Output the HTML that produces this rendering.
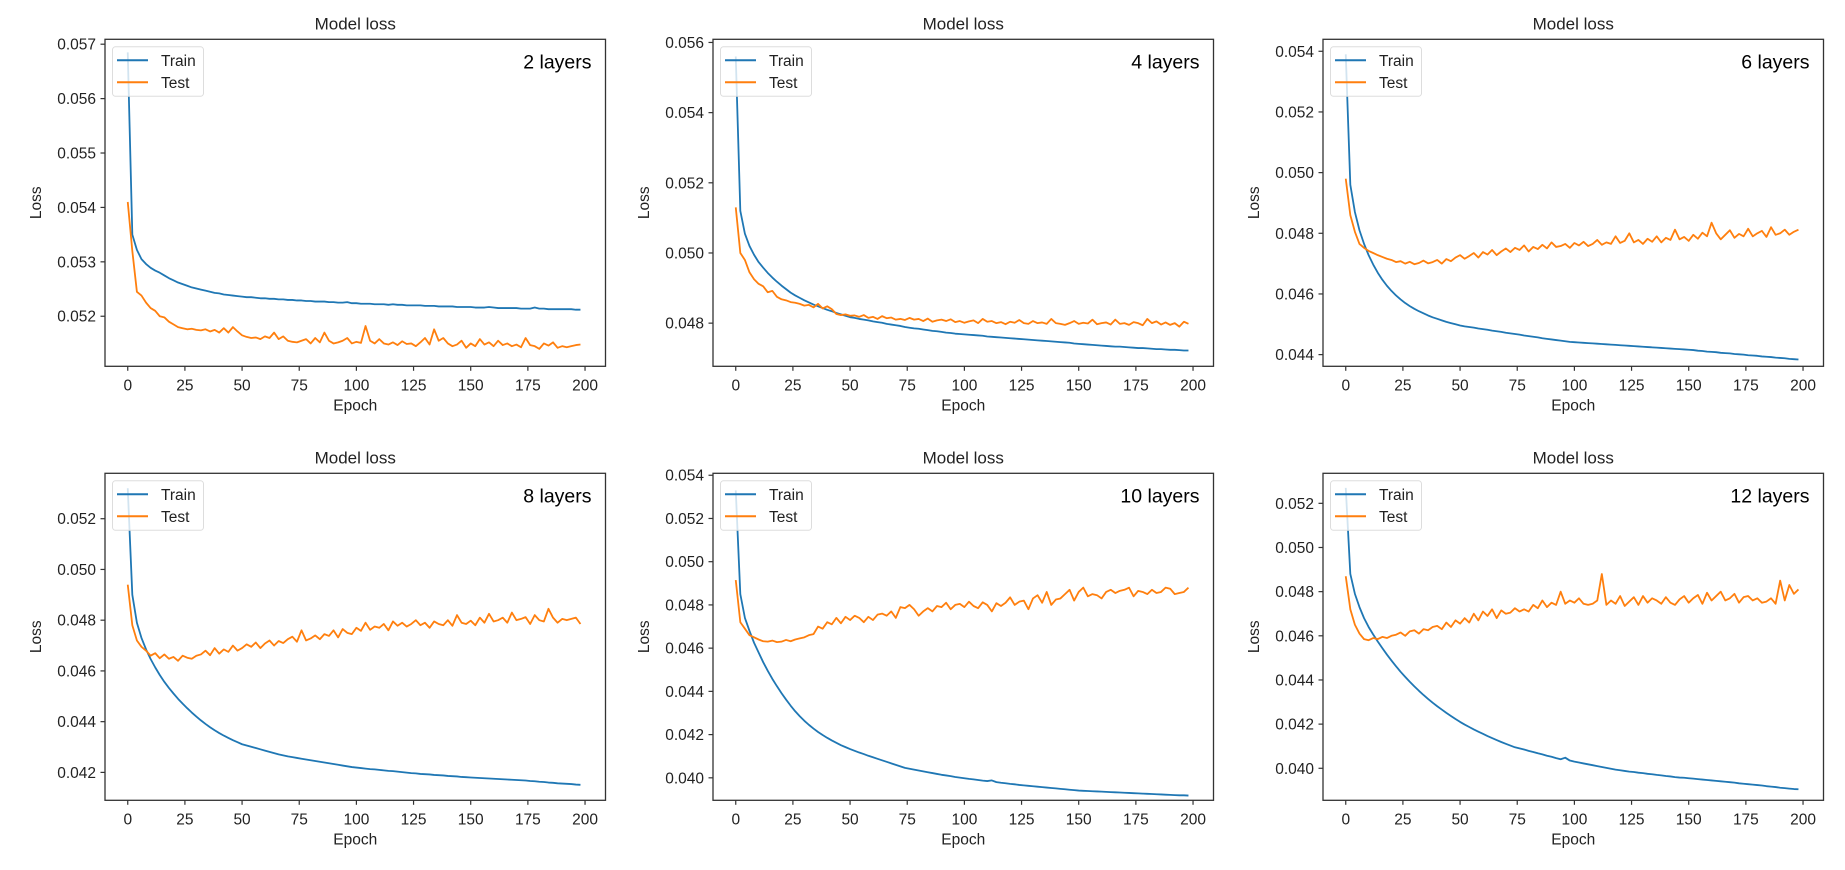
<!DOCTYPE html>
<html><head><meta charset="utf-8"><style>
html,body{margin:0;padding:0;background:#fff;}
svg{display:block;font-family:"Liberation Sans","DejaVu Sans",sans-serif;}
</style></head><body>
<svg id="fig" width="1845" height="870" viewBox="0 0 1845 870" xmlns="http://www.w3.org/2000/svg"></svg>
<script>
// Values are loss x 1e5, one point every 2 epochs
const panelLabels = ["2 layers","4 layers","6 layers","8 layers","10 layers","12 layers"];
const yTicks1 = [0.052,0.053,0.054,0.055,0.056,0.057];
const yTicks2 = [0.048,0.050,0.052,0.054,0.056];
const yTicks3 = [0.044,0.046,0.048,0.050,0.052,0.054];
const yTicks4 = [0.042,0.044,0.046,0.048,0.050,0.052];
const yTicks5 = [0.040,0.042,0.044,0.046,0.048,0.050,0.052,0.054];
const yTicks6 = [0.040,0.042,0.044,0.046,0.048,0.050,0.052];
const xTicks = [0,25,50,75,100,125,150,175,200];
const yLim1=[0.05108,0.05709], yLim2=[0.04677,0.05609], yLim3=[0.043615,0.054395];
const yLim4=[0.0409,0.05379], yLim5=[0.03896,0.05409], yLim6=[0.03855,0.05336];

const train1=[5685,5350,5322,5305,5296,5289,5284,5280,5275,5270,5266,5262,5259,5256,5253,5251,5249,5247,5245,5243,5242,5240,5239,5238,5237,5236,5235,5235,5234,5233,5233,5232,5232,5231,5231,5230,5230,5229,5229,5228,5228,5227,5227,5227,5226,5226,5225,5225,5226,5224,5224,5223,5223,5223,5222,5222,5222,5221,5222,5221,5221,5220,5220,5220,5220,5219,5219,5219,5218,5218,5218,5218,5217,5217,5217,5217,5216,5216,5216,5217,5216,5215,5215,5215,5215,5215,5214,5214,5214,5216,5214,5214,5213,5213,5213,5213,5213,5213,5212,5212];
const test1=[5410,5320,5245,5238,5225,5215,5210,5200,5198,5190,5185,5180,5178,5176,5177,5175,5174,5176,5172,5175,5170,5178,5170,5180,5172,5165,5162,5160,5161,5158,5163,5160,5170,5158,5163,5155,5153,5152,5155,5158,5150,5160,5152,5170,5155,5150,5152,5155,5160,5150,5153,5151,5182,5155,5150,5158,5150,5148,5152,5147,5154,5149,5150,5145,5152,5160,5148,5176,5155,5160,5150,5145,5148,5155,5142,5150,5145,5158,5148,5152,5145,5155,5147,5150,5145,5148,5143,5160,5147,5145,5140,5150,5146,5152,5142,5145,5143,5145,5147,5148];
const train2=[5560,5120,5055,5020,4995,4974,4958,4943,4930,4918,4907,4897,4887,4879,4872,4865,4859,4853,4848,4843,4838,4834,4829,4825,4821,4817,4815,4812,4810,4808,4805,4803,4801,4798,4796,4794,4792,4789,4787,4785,4784,4782,4780,4778,4777,4775,4773,4772,4770,4769,4768,4767,4766,4765,4764,4762,4761,4760,4759,4758,4757,4756,4755,4754,4753,4752,4751,4750,4749,4748,4747,4746,4745,4744,4742,4741,4740,4739,4738,4737,4736,4735,4734,4733,4733,4732,4731,4730,4729,4729,4728,4727,4726,4726,4725,4724,4724,4723,4722,4722];
const test2=[5130,5000,4980,4945,4925,4912,4905,4888,4892,4875,4868,4865,4860,4858,4855,4850,4852,4845,4855,4842,4848,4840,4826,4823,4825,4821,4822,4818,4823,4815,4818,4812,4820,4814,4816,4810,4812,4809,4815,4810,4812,4806,4813,4804,4808,4810,4806,4811,4803,4806,4801,4805,4808,4800,4812,4804,4806,4800,4803,4797,4804,4801,4809,4800,4798,4806,4800,4802,4798,4812,4800,4798,4795,4800,4806,4798,4801,4799,4810,4797,4800,4802,4796,4810,4798,4800,4795,4803,4800,4794,4812,4800,4805,4796,4802,4795,4800,4790,4804,4798];
const train3=[5390,4960,4870,4810,4765,4728,4697,4670,4647,4627,4610,4595,4582,4570,4560,4551,4543,4536,4529,4523,4518,4513,4508,4504,4500,4496,4493,4491,4489,4486,4484,4482,4479,4477,4475,4472,4470,4468,4466,4463,4461,4459,4457,4454,4452,4450,4448,4446,4444,4442,4441,4440,4439,4438,4437,4436,4435,4434,4433,4432,4431,4430,4429,4428,4427,4426,4425,4424,4423,4422,4421,4420,4419,4418,4417,4416,4415,4413,4412,4410,4409,4408,4406,4405,4404,4402,4401,4400,4398,4397,4396,4394,4393,4392,4390,4389,4388,4386,4385,4384];
const test3=[4980,4860,4805,4765,4752,4742,4735,4728,4722,4716,4712,4705,4708,4700,4706,4698,4702,4710,4701,4705,4712,4700,4715,4708,4720,4728,4716,4725,4735,4720,4738,4730,4745,4728,4740,4750,4738,4752,4745,4760,4740,4755,4748,4762,4750,4770,4755,4758,4765,4752,4768,4760,4772,4758,4765,4778,4762,4770,4765,4790,4768,4775,4800,4770,4778,4765,4782,4772,4790,4770,4785,4778,4812,4780,4788,4775,4795,4782,4802,4790,4835,4800,4780,4795,4810,4785,4798,4790,4815,4790,4800,4808,4788,4820,4795,4800,4812,4795,4805,4812];
const train4=[5320,4900,4790,4730,4685,4647,4614,4584,4557,4533,4511,4490,4471,4453,4436,4420,4405,4391,4378,4366,4355,4345,4336,4327,4319,4311,4306,4301,4296,4291,4286,4281,4276,4271,4267,4263,4260,4257,4254,4251,4248,4245,4242,4239,4236,4233,4230,4227,4224,4221,4219,4217,4215,4213,4212,4210,4208,4206,4205,4203,4201,4199,4197,4196,4194,4193,4192,4190,4189,4188,4186,4185,4184,4182,4181,4180,4179,4178,4177,4176,4175,4174,4173,4172,4171,4170,4169,4168,4166,4165,4163,4162,4160,4159,4157,4156,4155,4154,4152,4151];
const test4=[4940,4780,4720,4695,4680,4660,4670,4650,4665,4648,4655,4640,4660,4652,4648,4660,4665,4680,4662,4690,4668,4685,4675,4700,4680,4690,4705,4695,4712,4690,4708,4720,4700,4718,4710,4725,4735,4715,4760,4720,4728,4740,4725,4745,4738,4760,4732,4765,4750,4745,4770,4758,4790,4762,4775,4770,4785,4760,4795,4778,4790,4775,4785,4800,4780,4790,4770,4795,4785,4780,4800,4778,4820,4790,4785,4798,4780,4810,4790,4825,4795,4800,4810,4790,4830,4800,4805,4812,4785,4820,4800,4795,4845,4810,4790,4805,4800,4805,4810,4785];
const train5=[5330,4850,4740,4680,4625,4580,4535,4495,4458,4424,4392,4362,4334,4308,4285,4264,4245,4228,4212,4198,4185,4173,4162,4151,4142,4133,4125,4117,4110,4102,4095,4088,4081,4074,4067,4060,4053,4046,4042,4038,4034,4030,4026,4022,4018,4014,4011,4008,4004,4001,3998,3995,3993,3990,3987,3985,3988,3980,3977,3975,3972,3970,3967,3965,3963,3961,3959,3957,3955,3953,3951,3949,3947,3945,3943,3941,3940,3939,3938,3937,3936,3935,3934,3933,3932,3931,3930,3929,3928,3927,3926,3925,3924,3923,3922,3921,3920,3919,3919,3918];
const test5=[4915,4720,4690,4660,4650,4640,4632,4630,4635,4628,4630,4638,4632,4640,4645,4650,4660,4665,4700,4690,4720,4710,4740,4715,4745,4730,4750,4740,4720,4745,4730,4755,4760,4750,4770,4740,4790,4785,4800,4780,4750,4770,4785,4770,4795,4790,4810,4780,4800,4805,4790,4815,4795,4785,4812,4800,4770,4808,4795,4810,4835,4800,4815,4820,4780,4830,4845,4810,4860,4800,4825,4830,4850,4870,4820,4860,4880,4840,4850,4845,4830,4860,4870,4855,4865,4870,4880,4840,4865,4860,4850,4870,4855,4860,4880,4875,4850,4855,4860,4880];
const train6=[5270,4880,4790,4730,4680,4640,4606,4574,4544,4515,4488,4462,4437,4414,4392,4371,4351,4332,4314,4297,4281,4266,4251,4237,4223,4210,4198,4187,4176,4166,4156,4146,4137,4128,4119,4111,4103,4095,4090,4085,4079,4074,4068,4063,4057,4052,4046,4041,4048,4035,4030,4026,4022,4018,4014,4010,4006,4002,3998,3994,3991,3988,3985,3983,3980,3978,3975,3973,3970,3968,3965,3963,3960,3958,3957,3955,3953,3951,3949,3947,3945,3943,3941,3939,3937,3935,3932,3930,3928,3926,3924,3922,3919,3917,3915,3912,3910,3908,3906,3905];
const test6=[4870,4720,4650,4610,4585,4580,4590,4585,4595,4590,4600,4605,4615,4600,4620,4625,4610,4630,4625,4640,4645,4630,4660,4640,4670,4655,4680,4660,4700,4670,4710,4690,4720,4680,4715,4700,4705,4725,4710,4720,4710,4740,4725,4760,4730,4750,4740,4800,4745,4760,4750,4770,4745,4740,4745,4760,4880,4740,4760,4745,4780,4735,4755,4775,4740,4780,4750,4770,4760,4745,4775,4750,4740,4765,4780,4750,4770,4785,4745,4795,4760,4780,4800,4760,4770,4790,4750,4775,4780,4760,4770,4750,4755,4770,4745,4850,4760,4830,4790,4810];

const NS="http://www.w3.org/2000/svg";
const svg=document.getElementById('fig');
function mk(tag,attrs,parent){const e=document.createElementNS(NS,tag);for(const k in attrs)e.setAttribute(k,attrs[k]);(parent||svg).appendChild(e);return e;}

const colLeft=[105,713,1323], rowTop=[39.3,473.3], W=500.5, H=327;
const panels=[
 {train:train1,test:test1,ticks:yTicks1,lim:yLim1},
 {train:train2,test:test2,ticks:yTicks2,lim:yLim2},
 {train:train3,test:test3,ticks:yTicks3,lim:yLim3},
 {train:train4,test:test4,ticks:yTicks4,lim:yLim4},
 {train:train5,test:test5,ticks:yTicks5,lim:yLim5},
 {train:train6,test:test6,ticks:yTicks6,lim:yLim6}
];
panels.forEach((p,pi)=>{
  const L=colLeft[pi%3], T=rowTop[Math.floor(pi/3)];
  const g=mk('g',{});
  
  
  const xs=e=>L+(e+9.95)/218.9*W;
  const ys=v=>T+(p.lim[1]-v)/(p.lim[1]-p.lim[0])*H;
  const t=mk('text',{x:L+W/2,y:T-10,'text-anchor':'middle','font-size':17,fill:'#222'},g);
  t.textContent='Model loss';
  
  
  const cp=mk('clipPath',{id:'cp'+pi},g);mk('rect',{x:L,y:T,width:W,height:H},cp);
  const sg=mk('g',{'clip-path':'url(#cp'+pi+')'},g);
  
  
  const lineIn=(arr,col,name)=>{
    let d='';arr.forEach((v,i)=>{d+=(i?'L':'M')+xs(i*2).toFixed(2)+','+ys(v/1e5).toFixed(2);});
    const pth=mk('path',{d:d,fill:'none',stroke:col,'stroke-width':1.8,'stroke-linejoin':'round'},sg);
    
    
  };
  lineIn(p.train,'#1f77b4','train-line');
  lineIn(p.test,'#ff7f0e','test-line');
  const fr=mk('rect',{x:L,y:T,width:W,height:H,fill:'none',stroke:'#333','stroke-width':1.3},g);
  
  
  p.ticks.forEach(v=>{
    const y=ys(v);
    mk('line',{x1:L-4.5,x2:L,y1:y,y2:y,stroke:'#333','stroke-width':1.2},g);
    const tl=mk('text',{x:L-9,y:y+5.5,'text-anchor':'end','font-size':15.5,fill:'#222'},g);
    tl.textContent=v.toFixed(3);
    
    
  });
  xTicks.forEach(e=>{
    const x=xs(e);
    mk('line',{x1:x,x2:x,y1:T+H,y2:T+H+4.5,stroke:'#333','stroke-width':1.2},g);
    const tl=mk('text',{x:x,y:T+H+24,'text-anchor':'middle','font-size':15.5,fill:'#222'},g);
    tl.textContent=e;
    
    
  });
  const xl=mk('text',{x:L+W/2,y:T+H+44,'text-anchor':'middle','font-size':15.5,fill:'#222'},g);
  xl.textContent='Epoch';
  
  
  const yl=mk('text',{x:0,y:0,'text-anchor':'middle','font-size':15.5,fill:'#222',transform:'translate('+(L-64)+','+(T+H/2)+') rotate(-90)'},g);
  yl.textContent='Loss';
  
  
  const lg=mk('g',{},g);
  
  
  mk('rect',{x:L+7.5,y:T+7.5,width:91,height:49.5,rx:3,fill:'#fff','fill-opacity':0.8,stroke:'#ddd','stroke-width':1},lg);
  [['Train','#1f77b4',21],['Test','#ff7f0e',43]].forEach(([nm,c,dy])=>{
    mk('line',{x1:L+12,x2:L+43,y1:T+dy,y2:T+dy,stroke:c,'stroke-width':2},lg);
    const lt=mk('text',{x:L+56,y:T+dy+5.5,'font-size':15.5,fill:'#222'},lg);
    lt.textContent=nm;
    
    
  });
  const an=mk('text',{x:L+W-14,y:T+29,'text-anchor':'end','font-size':19.5,fill:'#000'},g);
  an.textContent=panelLabels[pi];
  
  
});
</script>
</body></html>
